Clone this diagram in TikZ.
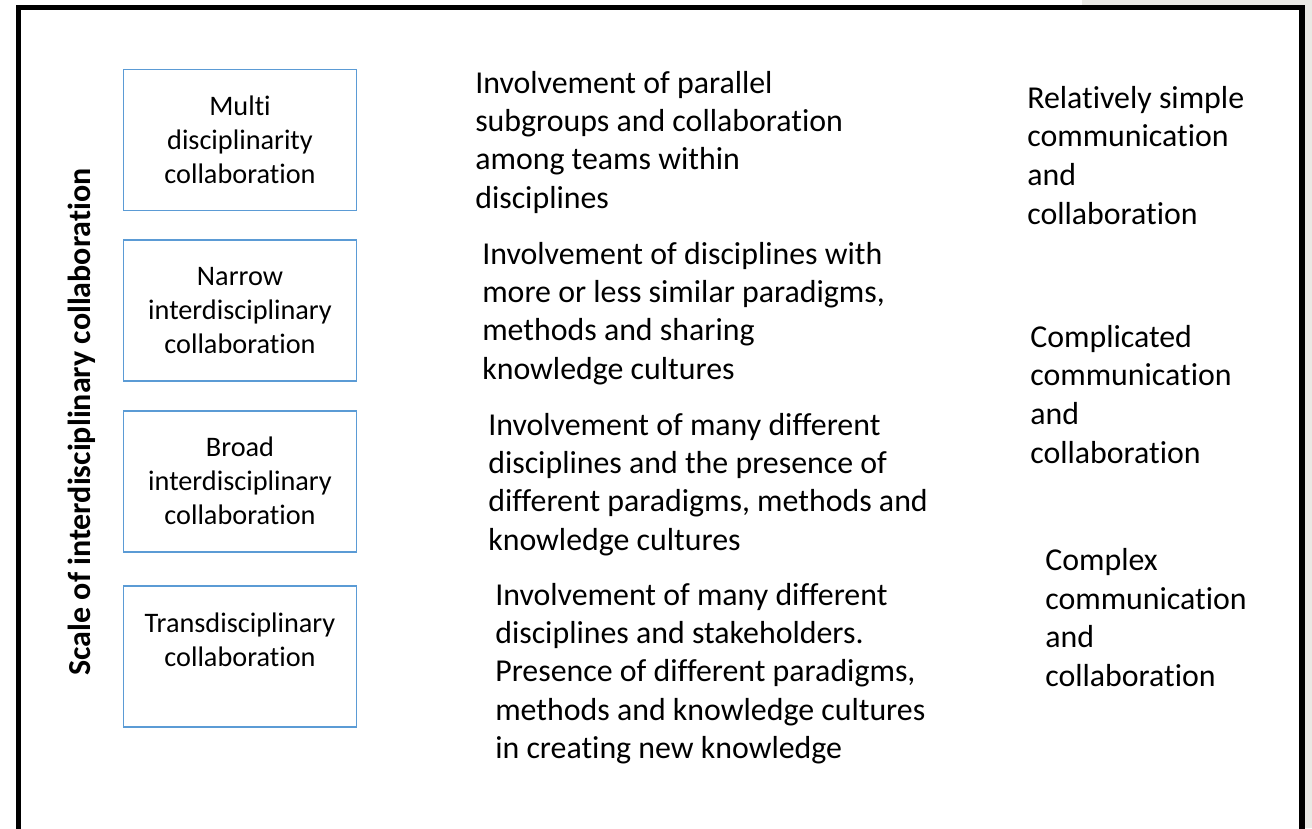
\documentclass[tikz,border=0pt]{standalone}
\usepackage{fontspec}
\setmainfont{Carlito}[RawFeature={-liga;-clig;-calt;-dlig}]
\definecolor{boxblue}{RGB}{91,155,213}
\definecolor{pagegray}{RGB}{234,233,229}
\begin{document}
\begin{tikzpicture}[x=0.75pt,y=-0.75pt,
  scalebox/.style={draw=boxblue, line width=1.2pt, minimum width=174.75pt, minimum height=105.75pt, inner sep=0pt},
  boxtext/.style={align=center, inner sep=0pt, anchor=base, font=\fontsize{21.2pt}{25.5pt}\selectfont},
  desc/.style={align=left, inner sep=0pt, anchor=base west, font=\fontsize{23.9pt}{28.7pt}\selectfont},
  effort/.style={align=left, inner sep=0pt, anchor=base west, font=\fontsize{23.9pt}{28.9pt}\selectfont},
  axislabel/.style={rotate=90, anchor=base, inner sep=0pt, font=\fontsize{24pt}{28pt}\selectfont\bfseries}]
\useasboundingbox (0,0) rectangle (1312,828);
\fill[white] (0,0) rectangle (1312,828);
\fill[pagegray] (1082,0) rectangle (1312,828);
\fill[white] (18.5,7.5) rectangle (1302,828);
\draw[line width=4.1pt] (18.5,840) -- (18.5,7.5) -- (1302,7.5) -- (1302,840);

% axis label
\node[axislabel] (axis) at (90,422) {Scale of interdisciplinary collaboration};

% scale boxes
\node[scalebox] (b1) at (240,140) {};
\node[scalebox] (b2) at (240,310.5) {};
\node[scalebox] (b3) at (240,481.5) {};
\node[scalebox] (b4) at (240,656.5) {};
% labels sit on the baseline of their last line
\node[boxtext] (t1) at (240,183) {Multi\\disciplinarity\\collaboration};
\node[boxtext] (t2) at (240,353) {Narrow\\interdisciplinary\\collaboration};
\node[boxtext] (t3) at (240,524) {Broad\\interdisciplinary\\collaboration};
\node[boxtext] (t4) at (240,666) {Transdisciplinary\\collaboration};

% descriptions
\node[desc] (d1) at (475,208) {Involvement of parallel\\subgroups and collaboration\\among teams within\\disciplines};
\node[desc] (d2) at (482,379) {Involvement of disciplines with\\more or less similar paradigms,\\methods and sharing\\knowledge cultures};
\node[desc] (d3) at (488,550) {Involvement of many different\\disciplines and the presence of\\different paradigms, methods and\\knowledge cultures};
\node[desc] (d4) at (495,758.5) {Involvement of many different\\disciplines and stakeholders.\\Presence of different paradigms,\\methods and knowledge cultures\\in creating new knowledge};

% communication effort
\node[effort] (e1) at (1027,224) {Relatively simple\\communication\\and\\collaboration};
\node[effort] (e2) at (1030,463) {Complicated\\communication\\and\\collaboration};
\node[effort] (e3) at (1045,686.5) {Complex\\communication\\and\\collaboration};
\end{tikzpicture}
\end{document}
